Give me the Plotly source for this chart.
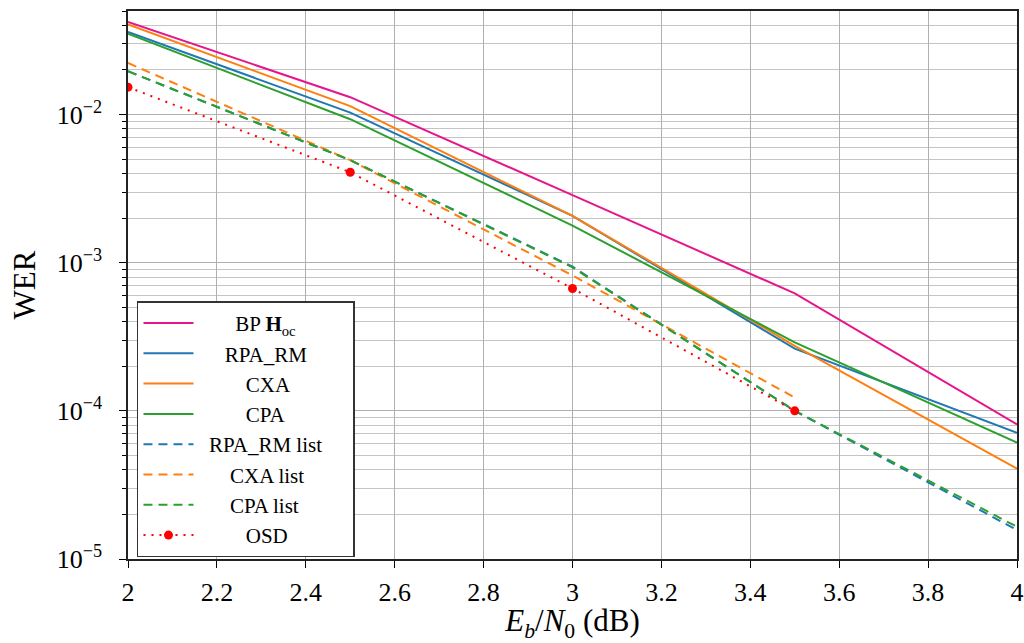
import plotly.graph_objects as go

x_full = [2.0, 2.5, 3.0, 3.5, 4.0]
x_cxa_list = [2.0, 2.5, 3.0, 3.5]
x_osd = [2.0, 2.5, 3.0, 3.5]

bp_hoc = [0.0422, 0.0131, 0.00286, 6.2e-4, 8.1e-5]
rpa_rm = [0.0361, 0.0103, 0.00207, 2.63e-4, 7.1e-5]
cxa = [0.0406, 0.0114, 0.00207, 2.75e-4, 4.07e-5]
cpa = [0.0351, 0.0093, 0.00178, 2.9e-4, 6.1e-5]
rpa_rm_list = [0.0196, 0.00492, 9.4e-4, 1.0e-4, 1.57e-5]
cxa_list = [0.0223, 0.00492, 8.2e-4, 1.23e-4]
cpa_list = [0.0196, 0.00492, 9.3e-4, 1.0e-4, 1.65e-5]
osd = [0.0153, 0.00408, 6.7e-4, 1.0e-4]

x_ticks = [2.0, 2.2, 2.4, 2.6, 2.8, 3.0, 3.2, 3.4, 3.6, 3.8, 4.0]
x_ticktext = ["2", "2.2", "2.4", "2.6", "2.8", "3", "3.2", "3.4", "3.6", "3.8", "4"]
y_ticks = [1e-5, 1e-4, 1e-3, 1e-2]
y_ticktext = ["10<sup>−5</sup>", "10<sup>−4</sup>", "10<sup>−3</sup>", "10<sup>−2</sup>"]

NB = "\u00a0"
BASE = 2
series = [
    ("BP <b>H</b><sub>oc</sub>", x_full, bp_hoc, "#e7158c", "solid", 5, 0),
    ("RPA_RM", x_full, rpa_rm, "#1f77b4", "solid", 3, 0),
    ("CXA", x_full, cxa, "#ff7f0e", "solid", 7, 0),
    ("CPA", x_full, cpa, "#2ca02c", "solid", 7, 0),
    ("RPA_RM list", x_full, rpa_rm_list, "#1f77b4", "9px,6px", 0, 5),
    ("CXA list", x_cxa_list, cxa_list, "#ff7f0e", "9px,6px", 4, 0),
    ("CPA list", x_full, cpa_list, "#2ca02c", "9px,6px", 4, 0),
]

fig = go.Figure()
for name, xs, ys, color, dash, pad, tail in series:
    label = NB * (BASE + pad) + name + NB * tail
    fig.add_trace(go.Scatter(
        x=xs, y=ys, mode="lines", name=label,
        line=dict(color=color, width=2, dash=dash),
    ))
fig.add_trace(go.Scatter(
    x=x_osd, y=osd, mode="lines+markers", name=NB * (BASE + 7) + "OSD",
    line=dict(color="#ff0000", width=2, dash="2px,6px"),
    marker=dict(color="#ff0000", size=9),
))

font_family = "Liberation Serif, DejaVu Serif, serif"
fig.update_layout(
    width=1024, height=643,
    margin=dict(l=128, r=7, t=11, b=84),
    paper_bgcolor="white", plot_bgcolor="white",
    font=dict(family=font_family, size=26, color="black"),
    showlegend=True,
    legend=dict(
        x=0.0101, y=0.003, xanchor="left", yanchor="bottom",
        bgcolor="white", bordercolor="#333333", borderwidth=1.5,
        font=dict(size=21), itemwidth=50,
    ),
)
fig.update_xaxes(
    range=[2, 4], tickvals=x_ticks, ticktext=x_ticktext,
    ticks="outside", ticklen=7, tickwidth=1.2, tickcolor="black",
    ticklabelstandoff=2,
    showgrid=True, gridcolor="#b0b0b0", gridwidth=1,
    showline=True, linecolor="#222222", linewidth=1.5, mirror=True,
    zeroline=False, automargin=False,
    title=dict(text="<i>E<sub>b</sub></i>/<i>N</i><sub>0</sub> (dB)", standoff=10),
    tickfont=dict(size=26),
)
fig.update_yaxes(
    type="log", range=[-5, -1.301],
    tickvals=y_ticks, ticktext=y_ticktext,
    ticks="outside", ticklen=7, tickwidth=1.2, tickcolor="black",
    ticklabelstandoff=12,
    showgrid=True, gridcolor="#b0b0b0", gridwidth=1,
    minor=dict(dtick="D1", ticks="outside", ticklen=4, tickcolor="black",
               showgrid=True, gridcolor="#c4c4c4", gridwidth=1),
    showline=True, linecolor="#222222", linewidth=1.5, mirror=True,
    zeroline=False, automargin=False,
    title=dict(text="WER", standoff=12),
    tickfont=dict(size=26),
)

fig.write_html("out.html")
